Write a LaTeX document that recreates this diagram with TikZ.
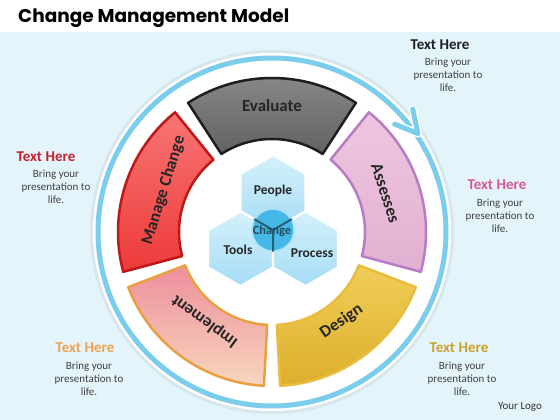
\documentclass[tikz,border=0pt]{standalone}
\usepackage{fontspec}
\setmainfont{Carlito}
\newfontfamily\titlefont{Poppins}
\usetikzlibrary{shapes.geometric,calc}
\definecolor{bgblue}{HTML}{E4F4FB}
\definecolor{ringblue}{HTML}{7ACDEB}
\definecolor{hexlight}{HTML}{D4F1FC}
\definecolor{hexdark}{HTML}{A6DDF5}
\definecolor{coreblue}{HTML}{45B8E8}
\definecolor{coreedge}{HTML}{A9E1F6}
\definecolor{yline}{HTML}{2B5E76}
\definecolor{evalA}{HTML}{8A8A8A}
\definecolor{evalB}{HTML}{626262}
\definecolor{evalE}{HTML}{1E1E1E}
\definecolor{assA}{HTML}{EEC6E0}
\definecolor{assB}{HTML}{E2B0D2}
\definecolor{assE}{HTML}{B77CC6}
\definecolor{desA}{HTML}{F0CE58}
\definecolor{desB}{HTML}{DDAE2C}
\definecolor{desE}{HTML}{E8BC3C}
\definecolor{impA}{HTML}{EE8E9C}
\definecolor{impB}{HTML}{F7D6BE}
\definecolor{impE}{HTML}{EAA040}
\definecolor{manA}{HTML}{F87474}
\definecolor{manB}{HTML}{EE3A3A}
\definecolor{manE}{HTML}{BE1818}
\definecolor{headL}{HTML}{C8202E}
\definecolor{headR}{HTML}{D4589A}
\definecolor{headBL}{HTML}{F0A252}
\definecolor{headBR}{HTML}{C9A22C}
\begin{document}
\begin{tikzpicture}[x=1pt,y=1pt,
	seg/.style={line width=2.5pt,line join=round},
	segtext/.style={font=\fontsize{17}{17}\selectfont\bfseries,text=black!85,inner sep=1pt},
	hexa/.style={regular polygon,regular polygon sides=6,shape border rotate=30,minimum size=74pt,inner sep=0pt,draw=white,line width=1.5pt,top color=hexlight,bottom color=hexdark},
	hextext/.style={font=\fontsize{13.5}{13.5}\selectfont\bfseries,text=black!85,inner sep=1pt},
	headtext/.style={font=\fontsize{15}{15}\selectfont\bfseries,inner sep=1pt},
	bodytext/.style={font=\fontsize{11}{13}\selectfont,text=black!75,align=center,inner sep=1pt}]
	% background
	\useasboundingbox (0,0) rectangle (560,420);
	\fill[bgblue] (0,0) rectangle (560,388);
	\fill[white] (0,388) rectangle (560,420);
	\coordinate (C) at (272,188);
	\coordinate (O) at (273,190);
	% disc and ring
	\fill[black,opacity=.05] (C) circle (182);
	\fill[white] (C) circle (179);
	\draw[ringblue,line width=5pt] (C) circle (174);
	\coordinate (tip) at ($(C)+(34:176)$);
	\draw[white,line width=8pt,line cap=round] (tip) -- ++(102:25) (tip) -- ++(158:25);
	\draw[ringblue,line width=5pt,line cap=round] (tip) -- ++(102:25) (tip) -- ++(158:25);
	% segments
	\foreach \a/\fa/\fb/\ed in {90/evalA/evalB/evalE,18/assA/assB/assE,-54/desA/desB/desE,-126/impA/impB/impE,162/manA/manB/manE}
		\draw[seg,draw=\ed,top color=\fa,bottom color=\fb] ($(C)+({\a-33}:154)$) arc[start angle={\a-33},end angle={\a+33},radius=154] -- ($(C)+({\a+33}:93)$) arc[start angle={\a+33},end angle={\a-33},radius=93] -- cycle;
	\node[segtext] (evaluate) at ($(C)+(90:126)$) {Evaluate};
	\node[segtext,rotate=-72] (assesses) at ($(C)+(19:120)$) {Assesses};
	\node[segtext,rotate=34] (design) at ($(C)+(-52:113)$) {Design};
	\node[segtext,rotate=144] (implement) at ($(C)+(-127:112)$) {Implement};
	\node[segtext,rotate=73] (manage) at ($(C)+(159:116)$) {Manage Change};
	% honeycomb
	\node[hexa] (hexP) at ($(O)+(90:37.5)$) {};
	\node[hexa] (hexT) at ($(O)+(210:37.5)$) {};
	\node[hexa] (hexR) at ($(O)+(330:37.5)$) {};
	\node[circle,fill=coreblue,draw=coreedge,line width=1.5pt,minimum size=42pt,inner sep=0pt] (core) at (O) {};
	\draw[yline,line width=2pt] (core.center) -- (core.150) (core.center) -- (core.30) (core.center) -- (core.270);
	\node[hextext] (people) at (273,229) {People};
	\node[hextext] (tools) at (238,170) {Tools};
	\node[hextext] (process) at (312,167) {Process};
	\node[font=\fontsize{12.5}{12.5}\selectfont\bfseries,text=yline!80!black,inner sep=1pt] (change) at (272,189) {Change};
	% side texts
	\node[headtext,text=black!88] (headTR) at (440,375) {Text Here};
	\node[bodytext] (bodyTR) at (448,345) {Bring your\\presentation to\\life.};
	\node[headtext,text=headL] (headL) at (46,263) {Text Here};
	\node[bodytext] (bodyL) at (56,233) {Bring your\\presentation to\\life.};
	\node[headtext,text=headR] (headR) at (497,235) {Text Here};
	\node[bodytext] (bodyR) at (500,204) {Bring your\\presentation to\\life.};
	\node[headtext,text=headBL] (headBL) at (85,72) {Text Here};
	\node[bodytext] (bodyBL) at (89,41) {Bring your\\presentation to\\life.};
	\node[headtext,text=headBR] (headBR) at (459,72) {Text Here};
	\node[bodytext] (bodyBR) at (462,41) {Bring your\\presentation to\\life.};
	\node[font=\fontsize{11}{11}\selectfont,text=black!80] (logo) at (520,13) {Your Logo};
	% title
	\node[anchor=base west,inner sep=0pt,font=\titlefont\bfseries\fontsize{18.5}{18.5}\selectfont] (title) at (18,397) {Change Management Model};
\end{tikzpicture}
\end{document}
